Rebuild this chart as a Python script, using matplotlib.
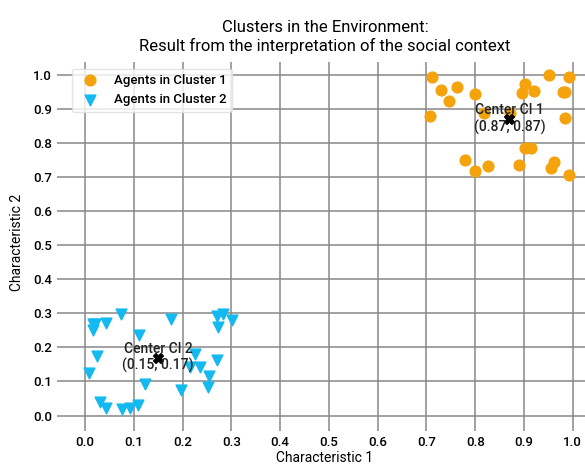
import matplotlib.pyplot as plt

# Cluster 1 agents (orange circles)
c1_x = [0.712, 0.730, 0.763, 0.747, 0.799, 0.708, 0.818, 0.902, 0.896, 0.920,
        0.951, 0.992, 0.979, 0.984, 0.984, 0.871, 0.902, 0.915, 0.780, 0.799,
        0.826, 0.889, 0.962, 0.956, 0.992]
c1_y = [0.993, 0.956, 0.966, 0.924, 0.945, 0.880, 0.887, 0.974, 0.948, 0.952,
        0.999, 0.993, 0.949, 0.949, 0.873, 0.887, 0.786, 0.786, 0.750, 0.719,
        0.733, 0.737, 0.744, 0.727, 0.706]

# Cluster 2 agents (cyan triangles)
c2_x = [0.017, 0.017, 0.020, 0.044, 0.073, 0.111, 0.176, 0.025, 0.009, 0.122,
        0.031, 0.044, 0.075, 0.092, 0.109, 0.196, 0.225, 0.215, 0.236, 0.255,
        0.253, 0.270, 0.270, 0.282, 0.273, 0.301]
c2_y = [0.268, 0.252, 0.270, 0.273, 0.299, 0.235, 0.284, 0.176, 0.124, 0.093,
        0.039, 0.023, 0.020, 0.023, 0.031, 0.074, 0.181, 0.142, 0.142, 0.115,
        0.083, 0.164, 0.291, 0.299, 0.260, 0.281]

centers = [(0.87, 0.87), (0.15, 0.17)]
center_names = ["Center Cl 1", "Center Cl 2"]
ticks = [0.0, 0.1, 0.2, 0.3, 0.4, 0.5, 0.6, 0.7, 0.8, 0.9, 1.0]

plt.rcParams['font.family'] = ['Roboto', 'DejaVu Sans']
plt.rcParams['font.weight'] = 'medium'

fig = plt.figure(figsize=(5.85, 4.66), dpi=100)
ax = fig.add_axes([65 / 585, 43 / 466, 520 / 585, 361 / 466])

ax.scatter(c1_x, c1_y, s=60, marker='o', color='#f5a30c', label='Agents in Cluster 1', zorder=3)
ax.scatter(c2_x, c2_y, s=60, marker='v', color='#14b9ef', label='Agents in Cluster 2', zorder=3)

for (cx, cy), name in zip(centers, center_names):
    ax.scatter([cx], [cy], s=50, marker='X', color='black', zorder=4)
    ax.text(cx, cy, f"{name}\n({cx:.2f}, {cy:.2f})", ha='center', va='center',
            fontsize=10, color='#222222', zorder=5, linespacing=1.2)

ax.set_xlim(-0.041, 1.025)
ax.set_ylim(-0.022, 1.038)
ax.set_xticks(ticks)
ax.set_yticks(ticks)
ax.grid(True, color='#888888', linewidth=1.1)
ax.set_axisbelow(True)
for s in ax.spines.values():
    s.set_visible(False)
ax.tick_params(length=6, color='#888888', width=1.1, labelsize=9.5)

ax.set_xlabel("Characteristic 1", fontsize=10, labelpad=1)
ax.set_ylabel("Characteristic 2", fontsize=10, labelpad=6)
ax.set_title("Clusters in the Environment:\nResult from the interpretation of the social context",
             fontsize=12, pad=8)
ax.legend(loc='upper left', fontsize=9.5, framealpha=0.8, edgecolor='#dddddd')

fig.savefig("out.png", dpi=100)
